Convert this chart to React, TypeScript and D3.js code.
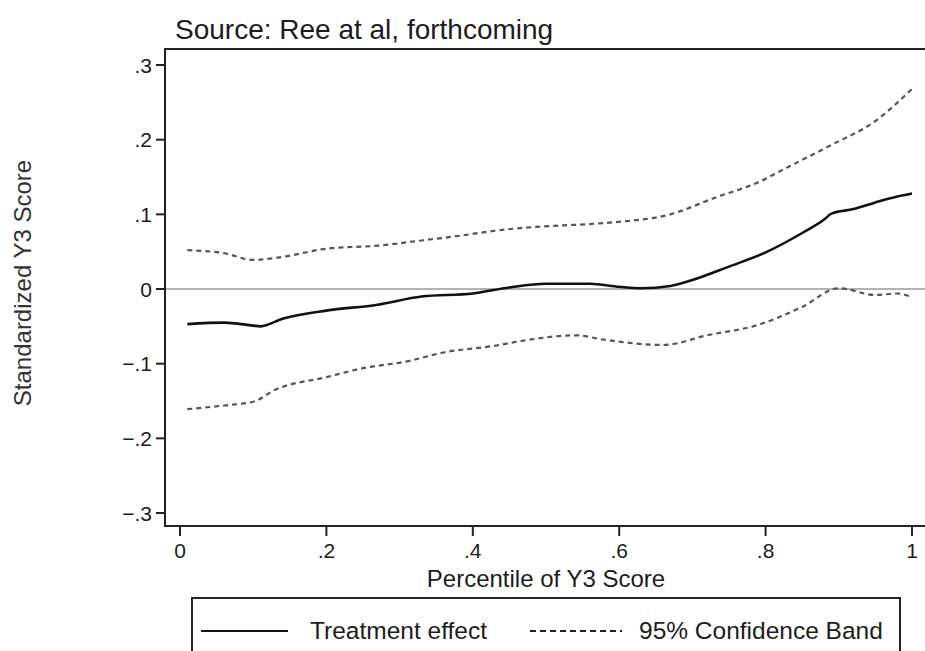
import React from "react";
import * as d3 from "d3";

const effectX = [0.01, 0.06, 0.1, 0.11, 0.14, 0.2, 0.27, 0.33, 0.4, 0.45, 0.5, 0.56, 0.6, 0.63, 0.67, 0.7, 0.75, 0.8, 0.85, 0.88, 0.89, 0.92, 0.95, 0.98, 1.0];
const effectY = [-0.047, -0.045, -0.049, -0.05, -0.04, -0.029, -0.021, -0.01, -0.006, 0.002, 0.007, 0.007, 0.003, 0.001, 0.004, 0.012, 0.03, 0.049, 0.075, 0.093, 0.101, 0.107, 0.116, 0.124, 0.128];

const upperX = [0.01, 0.06, 0.1, 0.14, 0.2, 0.27, 0.33, 0.38, 0.43, 0.47, 0.52, 0.56, 0.6, 0.67, 0.73, 0.79, 0.83, 0.89, 0.95, 1.0];
const upperY = [0.052, 0.048, 0.039, 0.043, 0.054, 0.058, 0.065, 0.071, 0.078, 0.082, 0.085, 0.087, 0.09, 0.1, 0.122, 0.143, 0.163, 0.193, 0.225, 0.268];

const lowerX = [0.01, 0.06, 0.1, 0.13, 0.2, 0.25, 0.31, 0.36, 0.43, 0.47, 0.54, 0.58, 0.66, 0.72, 0.79, 0.85, 0.9, 0.95, 0.98, 1.0];
const lowerY = [-0.161, -0.156, -0.151, -0.135, -0.118, -0.106, -0.097, -0.085, -0.076, -0.069, -0.062, -0.068, -0.075, -0.062, -0.048, -0.024, 0.001, -0.008, -0.006, -0.011];

const xTicks = [0, 0.2, 0.4, 0.6, 0.8, 1];
const xTickLabels = ["0", ".2", ".4", ".6", ".8", "1"];
const yTicks = [0.3, 0.2, 0.1, 0, -0.1, -0.2, -0.3];
const yTickLabels = [".3", ".2", ".1", "0", "\u2212.1", "\u2212.2", "\u2212.3"];

const titleText = "Source: Ree at al, forthcoming";
const xTitle = "Percentile of Y3 Score";
const yTitle = "Standardized Y3 Score";
const legendLabels = ["Treatment effect", "95% Confidence Band"];

const W = 925;
const H = 651;
const frame = { left: 165, top: 49, right: 932, bottom: 526 };
const font = "'Liberation Sans', Arial, sans-serif";
const ink = "#1c1c1c";

export default function App() {
  const x = d3.scaleLinear().domain([0, 1]).range([180, 912]);
  const y = d3.scaleLinear().domain([-0.3, 0.3]).range([513, 65]);
  const line = d3
    .line<[number, number]>()
    .x((d) => x(d[0]))
    .y((d) => y(d[1]))
    .curve(d3.curveMonotoneX);
  const pts = (xs: number[], ys: number[]) => xs.map((v, i) => [v, ys[i]] as [number, number]);

  return (
    <svg
      width={W}
      height={H}
      style={{ position: "absolute", left: 0, top: 0, background: "#fff" }}
      fontFamily={font}
    >
      <rect x={0} y={0} width={W} height={H} fill="#fff" />
      <text x={175} y={39} fontSize={28} fill={ink}>
        {titleText}
      </text>

      {/* zero reference line */}
      <line x1={frame.left} x2={W} y1={y(0)} y2={y(0)} stroke="#9a9a9a" strokeWidth={1.6} />

      {/* series */}
      <path d={line(pts(upperX, upperY)) || ""} fill="none" stroke="#555" strokeWidth={2.2} strokeDasharray="5,4" />
      <path d={line(pts(lowerX, lowerY)) || ""} fill="none" stroke="#555" strokeWidth={2.2} strokeDasharray="5,4" />
      <path d={line(pts(effectX, effectY)) || ""} fill="none" stroke="#111" strokeWidth={2.6} strokeLinejoin="round" />

      {/* frame */}
      <rect
        x={frame.left}
        y={frame.top}
        width={frame.right - frame.left}
        height={frame.bottom - frame.top}
        fill="none"
        stroke="#222"
        strokeWidth={2}
      />

      {/* y axis */}
      {yTicks.map((t, i) => (
        <g key={"y" + i}>
          <line x1={156} x2={frame.left} y1={y(t)} y2={y(t)} stroke="#222" strokeWidth={2} />
          <text x={152} y={y(t) + 7.5} fontSize={21} textAnchor="end" fill={ink}>
            {yTickLabels[i]}
          </text>
        </g>
      ))}

      {/* x axis */}
      {xTicks.map((t, i) => (
        <g key={"x" + i}>
          <line x1={x(t)} x2={x(t)} y1={frame.bottom} y2={536} stroke="#222" strokeWidth={2} />
          <text x={x(t)} y={558} fontSize={21} textAnchor="middle" fill={ink}>
            {xTickLabels[i]}
          </text>
        </g>
      ))}

      <text x={546} y={587} fontSize={24} textAnchor="middle" fill={ink}>
        {xTitle}
      </text>
      <text
        transform={`translate(31, ${283}) rotate(-90)`}
        fontSize={24}
        textAnchor="middle"
        fill="#333"
      >
        {yTitle}
      </text>

      {/* legend */}
      <rect x={192} y={598} width={708} height={70} fill="none" stroke="#222" strokeWidth={2} />
      <line x1={201} x2={288} y1={631} y2={631} stroke="#111" strokeWidth={2.2} />
      <text x={310} y={639} fontSize={24.5} fill={ink}>
        {legendLabels[0]}
      </text>
      <line x1={530} x2={622} y1={631} y2={631} stroke="#222" strokeWidth={2} strokeDasharray="6,4" />
      <text x={639} y={639} fontSize={24.5} fill={ink}>
        {legendLabels[1]}
      </text>
    </svg>
  );
}
